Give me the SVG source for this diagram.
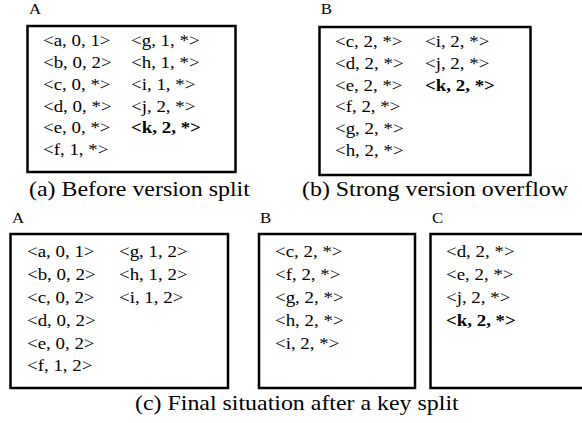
<svg xmlns="http://www.w3.org/2000/svg" width="582" height="423" viewBox="0 0 582 423">
<style>
text{font-family:"Liberation Serif","Times New Roman",serif;fill:#000}
.row{font-size:16.3px}
.b{font-weight:bold}
.lbl{font-size:14.5px}
.cap{font-size:20.6px}
.box{fill:#fff;stroke:#000;stroke-width:2.5}
</style>
<rect width="582" height="423" fill="#fff"/>
<g id="top-A">
 <g transform="translate(29,14.3) scale(1.16,1)"><text class="lbl" x="0" y="0">A</text></g>
 <rect class="box" x="27.5" y="26" width="208" height="146"/>
 <g transform="translate(43,0) scale(1.16,1)" class="row">
  <text x="0" y="46.5">&lt;a, 0, 1&gt;</text>
  <text x="0" y="68.2">&lt;b, 0, 2&gt;</text>
  <text x="0" y="89.9">&lt;c, 0, *&gt;</text>
  <text x="0" y="111.6">&lt;d, 0, *&gt;</text>
  <text x="0" y="133.3">&lt;e, 0, *&gt;</text>
  <text x="0" y="155">&lt;f, 1, *&gt;</text>
  <text x="75.9" y="46.5">&lt;g, 1, *&gt;</text>
  <text x="75.9" y="68.2">&lt;h, 1, *&gt;</text>
  <text x="75.9" y="89.9">&lt;i, 1, *&gt;</text>
  <text x="75.9" y="111.6">&lt;j, 2, *&gt;</text>
  <text x="75.9" y="133.3" class="b">&lt;k, 2, *&gt;</text>
 </g>
 <g transform="translate(29,196) scale(1.16,1)"><text class="cap" x="0" y="0">(a) Before version split</text></g>
</g>
<g id="top-B">
 <g transform="translate(320.7,14.3) scale(1.16,1)"><text class="lbl" x="0" y="0">B</text></g>
 <rect class="box" x="319.5" y="27" width="211" height="148"/>
 <g transform="translate(335,0) scale(1.16,1)" class="row">
  <text x="0" y="47">&lt;c, 2, *&gt;</text>
  <text x="0" y="68.8">&lt;d, 2, *&gt;</text>
  <text x="0" y="90.6">&lt;e, 2, *&gt;</text>
  <text x="0" y="112.4">&lt;f, 2, *&gt;</text>
  <text x="0" y="134.2">&lt;g, 2, *&gt;</text>
  <text x="0" y="156">&lt;h, 2, *&gt;</text>
  <text x="77.6" y="47">&lt;i, 2, *&gt;</text>
  <text x="77.6" y="68.8">&lt;j, 2, *&gt;</text>
  <text x="77.6" y="90.6" class="b">&lt;k, 2, *&gt;</text>
 </g>
 <g transform="translate(302,196) scale(1.16,1)"><text class="cap" x="0" y="0">(b) Strong version overflow</text></g>
</g>
<g id="final-A">
 <g transform="translate(12,222.5) scale(1.16,1)"><text class="lbl" x="0" y="0">A</text></g>
 <rect class="box" x="10.5" y="234" width="217.5" height="154"/>
 <g transform="translate(27,0) scale(1.16,1)" class="row">
  <text x="0" y="257">&lt;a, 0, 1&gt;</text>
  <text x="0" y="279.9">&lt;b, 0, 2&gt;</text>
  <text x="0" y="302.8">&lt;c, 0, 2&gt;</text>
  <text x="0" y="325.7">&lt;d, 0, 2&gt;</text>
  <text x="0" y="348.6">&lt;e, 0, 2&gt;</text>
  <text x="0" y="371.5">&lt;f, 1, 2&gt;</text>
  <text x="79.3" y="257">&lt;g, 1, 2&gt;</text>
  <text x="79.3" y="279.9">&lt;h, 1, 2&gt;</text>
  <text x="79.3" y="302.8">&lt;i, 1, 2&gt;</text>
 </g>
</g>
<g id="final-B">
 <g transform="translate(260,222.5) scale(1.16,1)"><text class="lbl" x="0" y="0">B</text></g>
 <rect class="box" x="259" y="234" width="156" height="154"/>
 <g transform="translate(275,0) scale(1.16,1)" class="row">
  <text x="0" y="257">&lt;c, 2, *&gt;</text>
  <text x="0" y="279.9">&lt;f, 2, *&gt;</text>
  <text x="0" y="302.8">&lt;g, 2, *&gt;</text>
  <text x="0" y="325.7">&lt;h, 2, *&gt;</text>
  <text x="0" y="348.6">&lt;i, 2, *&gt;</text>
 </g>
</g>
<g id="final-C">
 <g transform="translate(432,222.5) scale(1.16,1)"><text class="lbl" x="0" y="0">C</text></g>
 <rect class="box" x="430.5" y="234" width="160" height="154"/>
 <g transform="translate(446,0) scale(1.16,1)" class="row">
  <text x="0" y="257">&lt;d, 2, *&gt;</text>
  <text x="0" y="279.9">&lt;e, 2, *&gt;</text>
  <text x="0" y="302.8">&lt;j, 2, *&gt;</text>
  <text x="0" y="325.7" class="b">&lt;k, 2, *&gt;</text>
 </g>
</g>
<g id="caption-c">
 <g transform="translate(135,410) scale(1.16,1)"><text class="cap" x="0" y="0">(c) Final situation after a key split</text></g>
</g>
<g id="connectors"></g>
</svg>
